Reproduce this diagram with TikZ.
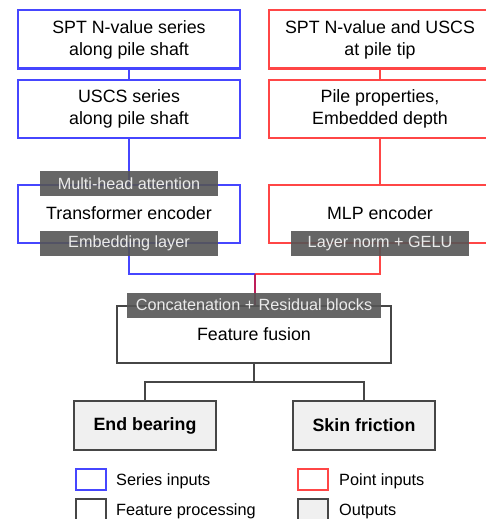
\documentclass[tikz,border=0pt]{standalone}
\usepackage{fontspec}
\setmainfont{Liberation Sans}
\usetikzlibrary{positioning,calc}

\definecolor{serblue}{RGB}{70,70,255}
\definecolor{ptred}{RGB}{255,70,70}
\definecolor{mixred}{RGB}{190,30,90}
\definecolor{procgray}{RGB}{70,70,70}
\definecolor{tagfill}{RGB}{85,85,85}
\definecolor{outfill}{RGB}{240,240,240}

\tikzset{
	box/.style={draw, line width=2pt, minimum width=222pt, minimum height=58pt, align=center, inner sep=0pt, font=\fontsize{17.8}{22}\selectfont},
	serbox/.style={box, draw=serblue},
	ptbox/.style={box, draw=ptred},
	tag/.style={fill=tagfill, fill opacity=0.9, text opacity=1, text={rgb,255:red,235;green,235;blue,235}, minimum height=25pt, inner sep=0pt, font=\fontsize{16.2}{19}\selectfont},
	outbox/.style={draw=procgray, fill=outfill, line width=2pt, minimum width=142pt, minimum height=49pt, font=\fontsize{17.8}{21}\selectfont\bfseries},
	legsq/.style={line width=2pt, minimum width=30pt, minimum height=21pt, inner sep=0pt},
	legtxt/.style={anchor=west, inner sep=0pt, yshift=-1.5pt, font=\fontsize{16.3}{19}\selectfont},
	link/.style={line width=2pt}
}

\begin{document}
\begin{tikzpicture}[x=1pt, y=-1pt]
	\useasboundingbox (0,0) rectangle (486,519);
	\clip (0,0) rectangle (486,519);

	% series branch
	\node[serbox] (spt) at (129,39.5) {SPT N-value series\\along pile shaft};
	\node[serbox] (uscs) at (129,108.5) {USCS series\\along pile shaft};
	\node[serbox] (trans) at (129,213.5) {Transformer encoder};

	% point branch
	\node[ptbox] (tip) at (380,39.5) {SPT N-value and USCS\\at pile tip};
	\node[ptbox] (pile) at (380,108.5) {Pile properties,\\Embedded depth};
	\node[ptbox] (mlp) at (380,213.5) {MLP encoder};

	% fusion and outputs
	\node[box, draw=procgray, minimum width=274pt, minimum height=57pt] (fusion) at (254,334.5) {Feature fusion};
	\node[outbox] (endb) at (145,425.5) {End bearing};
	\node[outbox] (skin) at (364,425.5) {Skin friction};

	\coordinate (join) at (255,274);
	\coordinate (split) at (254,382);

	\draw[link, serblue] (spt) -- (uscs);
	\draw[link, serblue] (uscs) -- (trans);
	\draw[link, serblue] (trans.south) |- (join);
	\draw[link, ptred] (tip) -- (pile);
	\draw[link, ptred] (pile) -- (mlp);
	\draw[link, ptred] (mlp.south) |- (join);
	\draw[link, mixred] (join) -- (fusion.north -| join);
	\draw[link, procgray] (fusion) -- (split);
	\draw[link, procgray] (split) -| (endb);
	\draw[link, procgray] (split) -| (skin);

	% labels on the boxes
	\node[tag, minimum width=178pt] (mha) at (trans.north) {Multi-head attention};
	\node[tag, minimum width=178pt] (emb) at (trans.south) {Embedding layer};
	\node[tag, minimum width=178pt] (gelu) at (mlp.south) {Layer norm + GELU};
	\node[tag, minimum width=254pt] (concat) at (fusion.north) {Concatenation + Residual blocks};

	% legend
	\node[legsq, draw=serblue] (lser) at (91,479.5) {};
	\node[legtxt, right=9pt of lser] {Series inputs};
	\node[legsq, draw=ptred] (lpt) at (313,479.5) {};
	\node[legtxt, right=10pt of lpt] {Point inputs};
	\node[legsq, draw=procgray] (lproc) at (91,509.5) {};
	\node[legtxt, right=9pt of lproc] {Feature processing};
	\node[legsq, draw=procgray, fill=outfill] (lout) at (313,509.5) {};
	\node[legtxt, right=10pt of lout] {Outputs};
\end{tikzpicture}
\end{document}
